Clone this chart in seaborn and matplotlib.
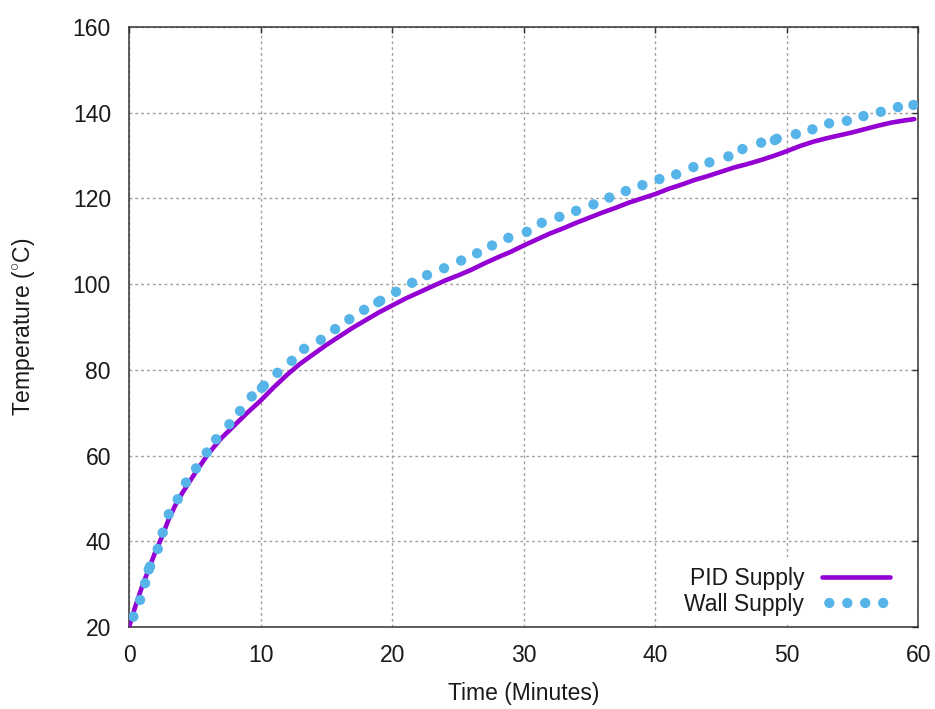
import numpy as np
import pandas as pd
import seaborn as sns
import matplotlib.pyplot as plt

# PID supply temperature trace (minutes, deg C)
pid_time = [0, 0.5, 1, 1.5, 2, 2.5, 3, 3.5, 4, 5, 6, 7, 8, 9, 10, 11, 12, 13, 14, 15,
            16, 17, 18, 19, 20, 21, 22, 23, 24, 25, 26, 27, 28, 29, 30, 31, 32, 33, 34,
            35, 36, 37, 38, 39, 40, 41, 42, 43, 44, 45, 46, 47, 48, 49, 50, 51, 52, 53,
            54, 55, 56, 57, 58, 59, 59.7]
pid_temp = [20, 25, 29.5, 33.5, 37.5, 41, 45, 48.3, 51, 55.8, 60.3, 64, 67, 70, 72.8,
            75.9, 78.8, 81.4, 83.6, 85.8, 87.8, 89.8, 91.6, 93.4, 95.0, 96.6, 98.0, 99.4,
            100.8, 102.0, 103.3, 104.8, 106.2, 107.5, 109, 110.4, 111.8, 113, 114.3, 115.5,
            116.7, 117.8, 119, 120, 121, 122.2, 123.2, 124.3, 125.2, 126.2, 127.2, 128,
            128.9, 129.9, 131.0, 132.2, 133.2, 134, 134.7, 135.4, 136.2, 137, 137.7,
            138.2, 138.5]

# Wall supply samples
wall_time = [0.33, 0.84, 1.22, 1.5, 1.6, 2.18, 2.56, 3.02, 3.7, 4.33, 5.1, 5.91, 6.62,
             7.63, 8.44, 9.33, 10.1, 10.25, 11.28, 12.37, 13.31, 14.58, 15.67, 16.75,
             17.87, 18.95, 19.1, 20.3, 21.52, 22.66, 23.95, 25.25, 26.46, 27.6, 28.84,
             30.24, 31.38, 32.72, 33.99, 35.31, 36.52, 37.77, 39.03, 40.33, 41.6, 42.91,
             44.13, 45.57, 46.64, 48.06, 49.1, 49.25, 50.7, 51.96, 53.23, 54.58, 55.84,
             57.16, 58.46, 59.64]
wall_temp = [22.4, 26.3, 30.2, 33.4, 34.1, 38.2, 42.0, 46.3, 49.8, 53.7, 57.0, 60.7,
             63.8, 67.3, 70.4, 73.8, 75.8, 76.3, 79.3, 82.1, 84.9, 87.0, 89.5, 91.8,
             94.0, 95.8, 96.1, 98.2, 100.3, 102.1, 103.7, 105.5, 107.2, 109.0, 110.8,
             112.2, 114.3, 115.7, 117.1, 118.6, 120.2, 121.7, 123.1, 124.5, 125.6, 127.3,
             128.4, 129.8, 131.5, 133.0, 133.6, 133.9, 135.0, 136.1, 137.5, 138.1, 139.2,
             140.2, 141.3, 141.8]

sns.set_theme(style="white")
plt.rcParams['font.family'] = ['Liberation Sans', 'DejaVu Sans']
plt.rcParams['mathtext.fontset'] = 'custom'
plt.rcParams['mathtext.rm'] = 'Liberation Sans'
plt.rcParams['mathtext.it'] = 'Liberation Sans:italic'

fs = 16.5
txt = '#1a1a1a'

fig = plt.figure(figsize=(9.35, 7.09), dpi=100)
ax = fig.add_axes([0.138, 0.1157, 0.844, 0.8463])

pid = pd.DataFrame({'time': pid_time, 'temp': pid_temp})
wall = pd.DataFrame({'time': wall_time, 'temp': wall_temp})

sns.lineplot(data=pid, x='time', y='temp', color='#9400D3', lw=3.3,
             label='PID Supply', ax=ax, zorder=3)
sns.scatterplot(data=wall, x='time', y='temp', color='#56B4E9', s=55,
                edgecolor='none', label='Wall Supply', ax=ax, zorder=4)

ax.set_xlim(0, 60)
ax.set_ylim(20, 160)
ax.set_xticks(np.arange(0, 61, 10))
ax.set_yticks(np.arange(20, 161, 20))
ax.grid(True, color='#a0a0a0', linestyle=(0, (2, 2.2)), lw=1)

for sp in ax.spines.values():
    sp.set_color('#333333')
    sp.set_linewidth(1.1)
ax.tick_params(direction='in', length=4.5, width=1, color='#333333',
               top=True, right=True, labelsize=fs, labelcolor=txt)
ax.tick_params(axis='x', pad=12)
ax.tick_params(axis='y', pad=13)

ax.set_xlabel('Time (Minutes)', fontsize=fs, color=txt, labelpad=11)
ax.set_ylabel('Temperature ($^{\\circ}$C)', fontsize=fs, color=txt, labelpad=26)

leg = ax.legend(loc='lower right', bbox_to_anchor=(0.976, 0.003),
                markerfirst=False, scatterpoints=4,
                scatteryoffsets=[0.5], handlelength=2.95, fontsize=fs,
                frameon=True, facecolor='white', edgecolor='none', framealpha=1,
                fancybox=False, borderpad=0.4, borderaxespad=0,
                labelspacing=0.15, handletextpad=0.8)
for t in leg.get_texts():
    t.set_color(txt)

fig.savefig('out.png', dpi=100)
